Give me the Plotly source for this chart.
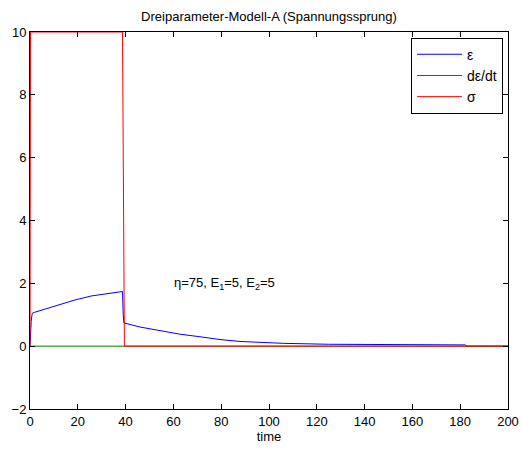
import plotly.graph_objects as go

# Strain epsilon over time (step load from t=0, unload near t=39)
eps_t = [0, 0.2, 0.5, 0.8, 1.0, 2.0, 6.3, 9.1, 11.8, 18.8, 25.8, 32.8, 38.4, 38.7,
         39.0, 39.3, 46.0, 54.4, 62.8, 71.1, 79.5, 87.9, 95.0, 106.0, 125.0, 150.0,
         182.0, 183.0, 200.0]
eps_v = [0.0, 0.47, 0.79, 0.98, 1.05, 1.08, 1.18, 1.26, 1.32, 1.47, 1.60, 1.67, 1.73, 1.74,
         1.0, 0.74, 0.61, 0.49, 0.38, 0.30, 0.21, 0.15, 0.12, 0.09, 0.06, 0.045,
         0.04, 0.0, 0.0]

# Strain rate (drawn as zero line)
rate_t = [0, 200]
rate_v = [0, 0]

# Stress sigma: step of 10
sig_t = [0, 0.2, 38.7, 39.5, 200]
sig_v = [0, 10, 10, 0, 0]

x_ticks = list(range(0, 201, 20))
y_ticks = list(range(-2, 11, 2))

font_family = "Liberation Sans, Arial, sans-serif"

fig = go.Figure()
fig.add_trace(go.Scatter(x=eps_t, y=eps_v, mode="lines", name="ε",
                         line=dict(color="#0000ff", width=1)))
fig.add_trace(go.Scatter(x=rate_t, y=rate_v, mode="lines", name="dε/dt",
                         line=dict(color="#008000", width=1)))
fig.add_trace(go.Scatter(x=sig_t, y=sig_v, mode="lines", name="σ",
                         line=dict(color="#ff0000", width=1)))

fig.add_annotation(x=59.5, y=2.0, xref="x", yref="y", xanchor="left", yanchor="middle",
                   text="η=75, E<sub>1</sub>=5, E<sub>2</sub>=5", showarrow=False,
                   font=dict(size=13, color="black", family=font_family))

axis_common = dict(showgrid=False, zeroline=False, showline=True, linecolor="black",
                   linewidth=1, mirror="ticks", ticks="inside", ticklen=5,
                   tickcolor="black", tickwidth=1, automargin=False,
                   tickfont=dict(size=13, color="black", family=font_family))

fig.update_layout(
    width=522, height=450,
    margin=dict(l=30, r=14, t=32, b=41),
    paper_bgcolor="white", plot_bgcolor="white",
    title=dict(text="Dreiparameter-Modell-A (Spannungssprung)", x=269 / 522, xanchor="center",
               y=1 - 16 / 450, yanchor="middle",
               font=dict(size=13, color="black", family=font_family)),
    xaxis=dict(range=[0, 200], tickvals=x_ticks,
               title=dict(text="time", font=dict(size=13, color="black", family=font_family),
                          standoff=2),
               **axis_common),
    yaxis=dict(range=[-2, 10], tickvals=y_ticks, **axis_common),
    legend=dict(x=0.9895, y=0.985, xanchor="right", yanchor="top",
                bordercolor="black", borderwidth=1, bgcolor="white",
                font=dict(size=14, color="black", family=font_family),
                itemwidth=45, tracegroupgap=0),
    showlegend=True,
)

fig.write_html("out.html")
